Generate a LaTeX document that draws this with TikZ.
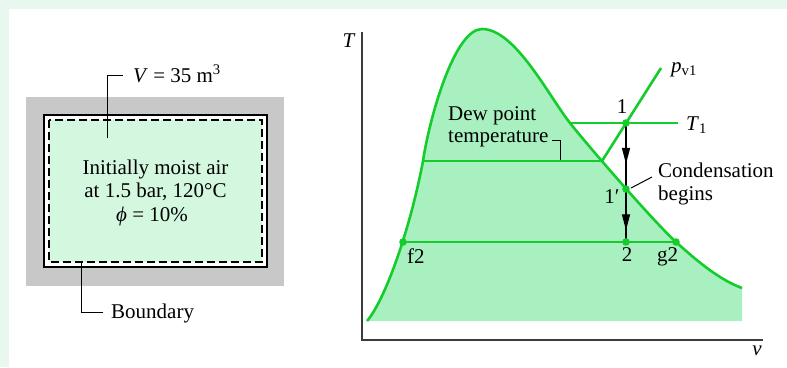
\documentclass[tikz,border=0pt]{standalone}
\usepackage{fontspec}
\setmainfont{Liberation Serif}
\usetikzlibrary{arrows.meta,decorations.markings}
\definecolor{bgpat}{RGB}{232,248,238}
\definecolor{boxgray}{RGB}{200,200,200}
\definecolor{airfill}{RGB}{212,247,224}
\definecolor{domefill}{RGB}{168,240,192}
\definecolor{gline}{RGB}{20,205,45}
\definecolor{axisgray}{RGB}{60,60,60}
\begin{document}
\begin{tikzpicture}[x=1pt,y=-1pt,
  font=\fontsize{21}{24}\selectfont,
  lbl/.style={inner sep=0pt,anchor=base},
  lbll/.style={inner sep=0pt,anchor=base west},
  leader/.style={draw=black,line width=1pt},
  gl/.style={draw=gline,line width=2.6pt},
  dot/.style={fill=gline},
  axis/.style={draw=axisgray,line width=1.4pt},
  flowarrow/.style={draw=black,line width=1.3pt,postaction={decorate},
    decoration={markings,mark=at position #1 with {\arrow{Triangle[length=16pt,width=8pt]}}}}
]
\useasboundingbox (0,0) rectangle (787,367);
\fill[bgpat] (0,0) rectangle (787,367);
\fill[white] (9,9) rectangle (787,367);

% ---------- left panel ----------
\fill[boxgray] (26,97) rectangle (284,286);
\draw[fill=white,line width=1.3pt] (44,115) rectangle (267,267);
\draw[fill=airfill,line width=1.2pt,dash pattern=on 8pt off 4pt] (49,120) rectangle (262,262);
\node[lbl] (air1) at (155.5,174) {Initially moist air};
\node[lbl] (air2) at (155.5,197) {at 1.5 bar, 120°C};
\node[lbl] (air3) at (152,221) {\textit{ϕ} = 10\%};
\node[lbll] (vol) at (133,82) {\textit{V} = 35 m\textsuperscript{3}};
\coordinate (volend) at (107,138);
\draw[leader] (volend) |- (123,75);
\node[lbll] (bnd) at (111,318) {Boundary};
\coordinate (bndend) at (81,262);
\draw[leader] (bndend) |- (103,312);

% ---------- right panel ----------
\coordinate (o) at (362,340);
\coordinate (ytop) at (362,32);
\coordinate (xend) at (763,340);
\draw[axis] (ytop) -- (o) -- (xend);
\node[lbl] (Tlab) at (349,47) {\textit{T}};
\node[lbl] (vlab) at (757,355) {\textit{v}};

\def\domepath{(367,321) .. controls (385,300) and (410,230) .. (423,161)
  .. controls (430,115) and (455,29) .. (482,29)
  .. controls (515,29) and (548,95) .. (570,123)
  .. controls (589,147) and (654,222) .. (676,242)
  .. controls (698,262) and (720,280) .. (742,288)}
\fill[domefill] \domepath -- (742,321) -- cycle;
\draw[gl] \domepath;

\coordinate (dewL) at (423,161);
\coordinate (dewR) at (602,161);
\coordinate (t1L) at (570,123);
\coordinate (t1R) at (678,123);
\coordinate (pvend) at (661,68);
\coordinate (p1) at (626,123);
\coordinate (p1p) at (626,189);
\coordinate (p2) at (626,242);
\coordinate (f2) at (403,242);
\coordinate (g2) at (676,242);

\draw[gl] (dewL) -- (dewR);
\draw[gl] (t1L) -- (t1R);
\draw[gl] (dewR) -- (pvend);
\draw[gl] (f2) -- (g2);

\draw[flowarrow=0.62] (p1) -- (p1p);
\draw[flowarrow=0.78] (p1p) -- (p2);

\foreach \p in {p1,p1p,p2,f2,g2} \fill[dot] (\p) circle (3.8);

\node[lbl] (l1) at (622,113) {1};
\node[lbl] (l1p) at (612,203) {1′};
\node[lbl] (l2) at (627,261) {2};
\node[lbll] (lf2) at (407,263) {f2};
\node[lbll] (lg2) at (657,261) {g2};
\node[lbll] (lT1) at (686,130) {\textit{T}\textsubscript{1}};
\node[lbll] (lpv) at (671,72) {\textit{p}\textsubscript{v1}};
\node[lbll] (dew1) at (448,120) {Dew point};
\node[lbll] (dew2) at (448,142) {temperature};
\draw[leader] (552,140) -| (560,160);
\node[lbll] (cond1) at (658,177) {Condensation};
\node[lbll] (cond2) at (658,200) {begins};
\draw[leader] (652,177) -- (631,188);
\end{tikzpicture}
\end{document}
